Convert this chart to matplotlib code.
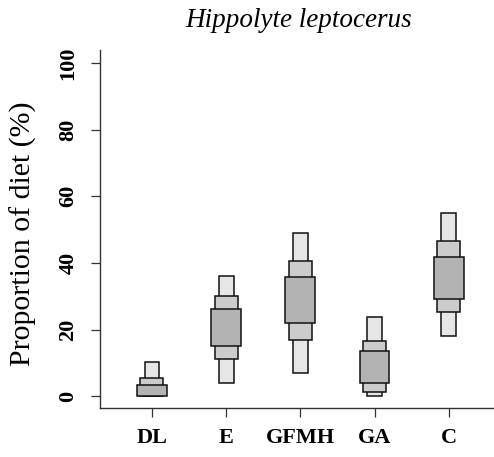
import matplotlib
matplotlib.use("Agg")
import matplotlib.pyplot as plt
from matplotlib.patches import Rectangle

# diet sources and credible intervals (95%, 75%, 50%)
sources = ["DL", "E", "GFMH", "GA", "C"]
ci95_low = [0.0, 4.0, 6.9, 0.0, 18.0]
ci95_high = [10.2, 36.0, 48.9, 23.8, 54.9]
ci75_low = [0.0, 11.0, 17.0, 1.1, 25.2]
ci75_high = [5.4, 30.1, 40.6, 16.7, 46.5]
ci50_low = [0.1, 15.1, 22.1, 3.8, 29.3]
ci50_high = [3.2, 26.3, 35.8, 13.4, 41.7]

plt.rcParams['font.family'] = ['Liberation Serif', 'DejaVu Serif']

fig = plt.figure(figsize=(4.94, 4.57), dpi=100)
ax = fig.add_axes([0.2024, 0.107, 0.796, 0.784])

levels = [
    (ci95_low, ci95_high, 0.10, "#e6e6e6"),
    (ci75_low, ci75_high, 0.155, "#cccccc"),
    (ci50_low, ci50_high, 0.20, "#b3b3b3"),
]
for lows, highs, hw, col in levels:
    for i, (lo, hi) in enumerate(zip(lows, highs)):
        x = i + 1
        ax.add_patch(Rectangle((x - hw, lo), 2 * hw, hi - lo,
                               facecolor=col, edgecolor="#111111", linewidth=1.1))

ax.set_xlim(0.3, 5.6)
ax.set_ylim(-3.6, 104)
ax.set_xticks(range(1, len(sources) + 1))
ax.set_xticklabels(sources, fontweight="bold", fontsize=16)
ax.set_yticks([0, 20, 40, 60, 80, 100])
ax.set_yticklabels(["0", "20", "40", "60", "80", "100"], fontweight="bold",
                   fontsize=16, rotation=90, va="center")
ax.tick_params(axis="both", length=6.5, width=0.9, color="#333333")
ax.tick_params(axis="x", pad=8)
ax.tick_params(axis="y", pad=9)

for s in ["top", "right"]:
    ax.spines[s].set_visible(False)
for s in ["left", "bottom"]:
    ax.spines[s].set_color("#333333")
    ax.spines[s].set_linewidth(1.0)

fig.text(23 / 494, 0.488, "Proportion of diet (%)", fontsize=21.5,
         rotation=90, ha="center", va="center")
fig.text(299 / 494, 1 - 27 / 457, "Hippolyte leptocerus", fontstyle="italic",
         fontsize=19.5, ha="center", va="baseline")

fig.savefig("out.png", dpi=100)
